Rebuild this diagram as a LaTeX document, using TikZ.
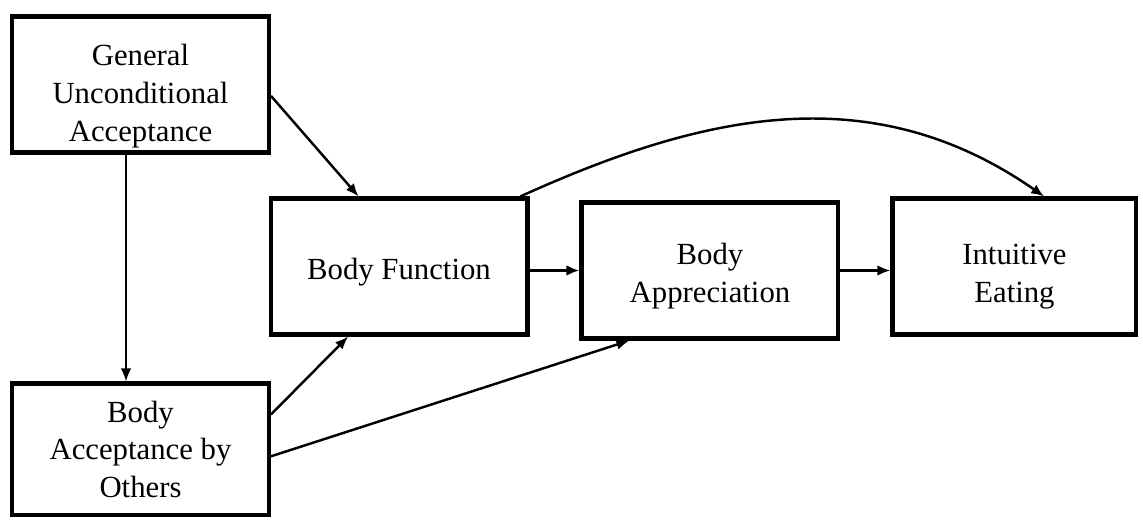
\documentclass[tikz,border=0pt]{standalone}
\usepackage{fontspec}
\setmainfont{Liberation Serif}
\usetikzlibrary{positioning}
\usetikzlibrary{arrows.meta}

\begin{document}
\begin{tikzpicture}[x=0.02cm, y=0.02cm, node distance=1cm,
    var/.style={draw, rectangle, line width=2.3pt, align=center, inner sep=0pt,
      font=\fontsize{17.5}{21.6}\selectfont, minimum width=5.14cm, minimum height=2.72cm},
    link/.style={line width=1.4pt, -{Latex[length=2.6mm,width=2.1mm]}}]
    \useasboundingbox (0,0) rectangle (1143,522);
    \node[var, text height=68.9pt, text depth=3.8pt] (gua) at (140.5,437.5) {General\\Unconditional\\Acceptance} ; %
    \node[var, below=4.54cm of gua, minimum height=2.64cm] (bao) {Body\\Acceptance by\\Others} ; %
    \node[var, text height=18.9pt, text depth=3.8pt] (bf) at (399,255.5) {Body Function} ; %
    \node[var, right=of bf, yshift=-0.08cm, text height=40.5pt, text depth=3.8pt] (ba) {Body\\Appreciation} ; %
    \node[var, right=of ba, yshift=0.08cm, minimum width=4.88cm, text height=45.1pt, text depth=3.8pt] (ie) {Intuitive\\Eating} ; %
    \draw[link] (gua.-5) -- (bf.120); \draw[link, line width=1pt]
    ([xshift=-0.29cm]gua.south) -- ([xshift=-0.29cm]gua.south |- bao.north);
    \draw[link] (bao.15) -- (bf.234); \draw[link] (bao.-3) -- (ba.221);
    \draw[link] (bf.east |- ba) -- (ba.west); \draw[link] (ba.east) -- (ie.west |- ba.east);
    \draw[link] (bf.30) .. controls (700,407) and (870,447) .. (ie.67);
  \end{tikzpicture}
\end{document}
